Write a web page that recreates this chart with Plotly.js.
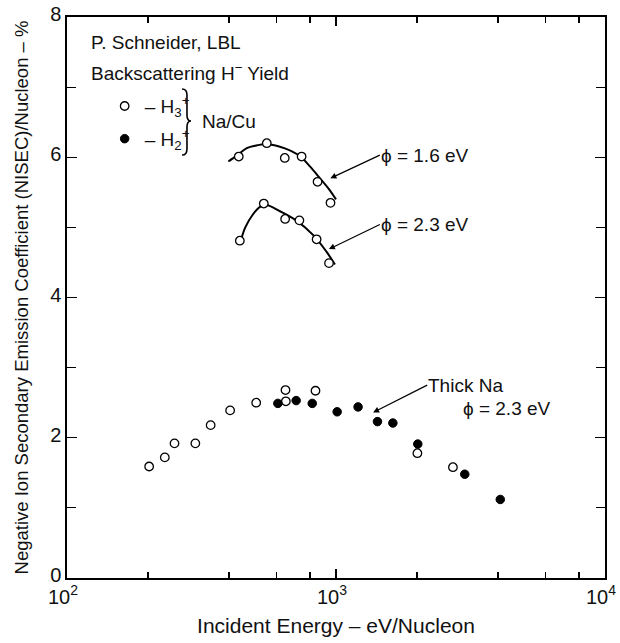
<!DOCTYPE html>
<html>
<head>
<meta charset="utf-8">
<script src="https://cdn.plot.ly/plotly-3.0.1.min.js"></script>
<style>html,body{margin:0;padding:0;background:#fff;}</style>
</head>
<body>
<div id="chart" style="width:620px;height:643px;"></div>
<script>
// ---- Data ----
// Na/Cu, phi = 1.6 eV (H3+ open circles)
const phi16_x = [435, 553, 645, 745, 854, 954];
const phi16_y = [6.01, 6.20, 5.99, 6.01, 5.65, 5.35];
// fitted curve phi = 1.6 eV
const fit16_x = [398, 430, 466, 510, 548, 619, 680, 737, 800, 872, 940, 1000];
const fit16_y = [5.94, 6.03, 6.13, 6.17, 6.19, 6.15, 6.09, 6.01, 5.87, 5.70, 5.55, 5.40];
// Na/Cu, phi = 2.3 eV (H3+ open circles)
const phi23_x = [439, 539, 647, 731, 847, 942];
const phi23_y = [4.81, 5.34, 5.12, 5.10, 4.83, 4.49];
// fitted curve phi = 2.3 eV
const fit23_x = [442, 460, 490, 520, 551, 619, 704, 823, 923, 991];
const fit23_y = [4.80, 5.00, 5.18, 5.29, 5.32, 5.23, 5.11, 4.89, 4.65, 4.47];
// Thick Na, phi = 2.3 eV
const thickH3_x = [202, 231, 251, 300, 342, 404, 505, 649, 651, 839, 2007, 2721];
const thickH3_y = [1.59, 1.72, 1.92, 1.92, 2.18, 2.39, 2.50, 2.68, 2.52, 2.67, 1.78, 1.58];
const thickH2_x = [608, 711, 816, 1010, 1208, 1426, 1627, 2014, 3011, 4080];
const thickH2_y = [2.49, 2.53, 2.49, 2.37, 2.44, 2.23, 2.21, 1.91, 1.48, 1.12];

// axis ticks
const xTickVals = [100, 1000, 10000];
const xTickText = ['10<sup>2</sup>', '10<sup>3</sup>', '10<sup>4</sup>'];
const xMinorVals = [200, 400, 600, 800, 2000, 4000, 6000, 8000];
const yTickVals = [0, 2, 4, 6, 8];
const yMinorVals = [1, 3, 5, 7];

const FONT = 'Liberation Sans, Arial, Helvetica, sans-serif';
const openMarker = {symbol: 'circle', size: 8.5, color: '#ffffff', line: {color: '#000', width: 1.3}};
const filledMarker = {symbol: 'circle', size: 8.5, color: '#000', line: {color: '#000', width: 1}};
const lineStyle = {color: '#000', width: 2};

const traces = [
  {x: fit16_x, y: fit16_y, mode: 'lines', line: Object.assign({shape: 'spline'}, lineStyle), showlegend: false, hoverinfo: 'skip'},
  {x: fit23_x, y: fit23_y, mode: 'lines', line: Object.assign({shape: 'spline'}, lineStyle), showlegend: false, hoverinfo: 'skip'},
  {x: phi16_x, y: phi16_y, mode: 'markers', marker: openMarker, name: '– H<sub>3</sub><sup>+</sup>', legendgroup: 'h3', showlegend: true},
  {x: phi23_x, y: phi23_y, mode: 'markers', marker: openMarker, legendgroup: 'h3', showlegend: false},
  {x: thickH3_x, y: thickH3_y, mode: 'markers', marker: openMarker, legendgroup: 'h3', showlegend: false},
  {x: thickH2_x, y: thickH2_y, mode: 'markers', marker: filledMarker, name: '– H<sub>2</sub><sup>+</sup>', legendgroup: 'h2', showlegend: true}
];

const L = Math.log10;
const annFont = {family: FONT, size: 19, color: '#111'};

const layout = {
  width: 620, height: 643,
  margin: {l: 67, r: 15, t: 17, b: 65},
  paper_bgcolor: '#fff', plot_bgcolor: '#fff',
  font: {family: FONT, color: '#111'},
  showlegend: true,
  legend: {x: 0.07, y: 0.875, xanchor: 'left', yanchor: 'top', bgcolor: 'rgba(0,0,0,0)',
           font: {family: FONT, size: 19, color: '#111'}, traceorder: 'grouped', tracegroupgap: 5,
           itemwidth: 30},
  xaxis: {
    type: 'log', range: [2, 4],
    tickmode: 'array', tickvals: xTickVals, ticktext: xTickText,
    ticks: 'inside', ticklen: 9, tickwidth: 1.3, tickcolor: '#000',
    minor: {tickmode: 'array', tickvals: xMinorVals, ticks: 'inside', ticklen: 6, tickwidth: 1.2, tickcolor: '#000'},
    showline: true, linecolor: '#000', linewidth: 1.6, mirror: 'ticks',
    showgrid: false, zeroline: false, ticklabeloverflow: 'allow', ticklabelshift: -4,
    tickfont: {family: FONT, size: 20, color: '#111'},
    title: {text: 'Incident Energy – eV/Nucleon', font: {family: FONT, size: 21, color: '#111'}, standoff: 12}
  },
  yaxis: {
    range: [0, 8],
    tickmode: 'array', tickvals: yTickVals,
    ticks: 'inside', ticklen: 10, tickwidth: 1.3, tickcolor: '#000',
    minor: {tickmode: 'array', tickvals: yMinorVals, ticks: 'inside', ticklen: 9, tickwidth: 1.2, tickcolor: '#000'},
    showline: true, linecolor: '#000', linewidth: 1.6, mirror: 'ticks',
    showgrid: false, zeroline: false, ticklabelshift: -3,
    tickfont: {family: FONT, size: 20, color: '#111'},
    title: {text: 'Negative Ion Secondary Emission Coefficient (NISEC)/Nucleon – %', font: {family: FONT, size: 18.5, color: '#111'}, standoff: 17}
  },
  annotations: [
    {xref: 'paper', yref: 'paper', x: 0.041, y: 0.955, xanchor: 'left', yanchor: 'middle', showarrow: false,
     text: 'P. Schneider, LBL', font: annFont},
    {xref: 'paper', yref: 'paper', x: 0.041, y: 0.902, xanchor: 'left', yanchor: 'middle', showarrow: false,
     text: 'Backscattering H<sup>−</sup> Yield', font: annFont},
    {xref: 'paper', yref: 'paper', x: 0.247, y: 0.8146, xanchor: 'left', yanchor: 'middle', showarrow: false,
     text: 'Na/Cu', font: annFont},
    {x: L(953), y: 5.70, xref: 'x', yref: 'y', axref: 'x', ayref: 'y', ax: 3.163, ay: 6.03,
     xanchor: 'left', yanchor: 'middle', text: 'ϕ = 1.6 eV', font: annFont,
     showarrow: true, arrowhead: 2, arrowsize: 1, arrowwidth: 1.2, arrowcolor: '#000', borderpad: 0},
    {x: L(941), y: 4.69, xref: 'x', yref: 'y', axref: 'x', ayref: 'y', ax: 3.163, ay: 5.04,
     xanchor: 'left', yanchor: 'middle', text: 'ϕ = 2.3 eV', font: annFont,
     showarrow: true, arrowhead: 2, arrowsize: 1, arrowwidth: 1.2, arrowcolor: '#000', borderpad: 0},
    {x: L(1374), y: 2.36, xref: 'x', yref: 'y', axref: 'x', ayref: 'y', ax: 3.339, ay: 2.75,
     xanchor: 'left', yanchor: 'middle', text: 'Thick Na', font: annFont,
     showarrow: true, arrowhead: 2, arrowsize: 1, arrowwidth: 1.2, arrowcolor: '#000', borderpad: 0},
    {x: 3.636, y: 2.415, xref: 'x', yref: 'y', xanchor: 'center', yanchor: 'middle', showarrow: false,
     text: 'ϕ = 2.3 eV', font: annFont}
  ],
  shapes: [
    {type: 'path', xref: 'paper', yref: 'paper',
     path: 'M 0.2138 0.8717 Q 0.2230 0.8717 0.2230 0.8610 L 0.2230 0.8253 Q 0.2230 0.8146 0.2305 0.8146 Q 0.2230 0.8146 0.2230 0.8039 L 0.2230 0.7647 Q 0.2230 0.7540 0.2138 0.7540',
     line: {color: '#000', width: 1.6}}
  ]
};

Plotly.newPlot('chart', traces, layout, {staticPlot: true, displayModeBar: false});
</script>
</body>
</html>
